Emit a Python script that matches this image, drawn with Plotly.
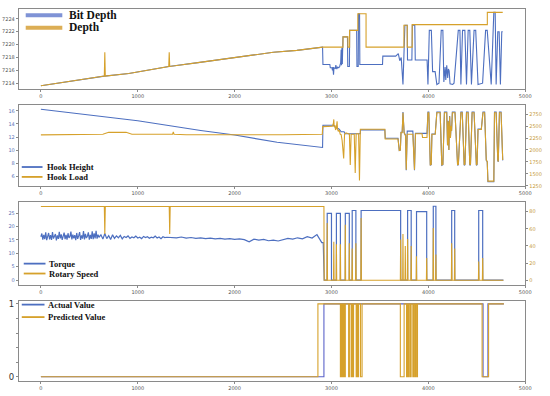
import plotly.graph_objects as go

# ---------------- Panel 1: Bit Depth / Depth ----------------
depth_x = [0, 300, 655, 660, 665, 908, 1320, 1325, 1330, 1622, 2000, 2400, 2643, 2908,
           3119, 3119, 3170, 3170, 3187, 3187, 3272, 3272, 3357, 3357, 3748, 3748,
           3782, 3782, 3833, 3833, 4609, 4609, 4768]
depth_y = [7213.6, 7214.3, 7215.1, 7218.8, 7215.1, 7215.5, 7216.6, 7218.8, 7216.6, 7217.2,
           7218.0, 7218.8, 7219.1, 7219.6, 7219.6, 7221.2, 7221.2, 7219.6, 7219.6, 7222.2,
           7222.2, 7224.8, 7224.8, 7219.6, 7219.6, 7223.0, 7223.0, 7219.6, 7219.6, 7223.1,
           7223.1, 7225.0, 7225.0]

bit_x = [0, 300, 655, 908, 1320, 1622, 2000, 2400, 2643, 2908,
         2912, 2983, 2988, 3005, 3010, 3015, 3021, 3026, 3040, 3045, 3055, 3065, 3075, 3085,
         3095, 3100, 3104, 3108, 3112, 3116, 3119, 3165, 3168, 3185, 3188, 3260, 3263, 3276,
         3279, 3290, 3293, 3527, 3530, 3663, 3690, 3705, 3720, 3738, 3752, 3758, 3782, 3785,
         3830, 3835, 3860, 3865, 3987, 3996, 4010, 4031, 4044, 4070, 4088, 4110, 4133, 4150,
         4160, 4173, 4180, 4190, 4200, 4207, 4215, 4224, 4251, 4265, 4309, 4326, 4336, 4353,
         4377, 4394, 4411, 4428, 4445, 4472, 4489, 4513, 4560, 4591, 4608, 4649, 4676, 4690,
         4700, 4717, 4731, 4744, 4758, 4768]
bit_y = [7213.6, 7214.3, 7215.1, 7215.5, 7216.6, 7217.2, 7218.0, 7218.8, 7219.1, 7219.6,
         7216.9, 7216.9, 7216.4, 7216.4, 7216.0, 7216.5, 7215.3, 7216.4, 7216.3, 7216.8,
         7216.2, 7216.5, 7216.4, 7216.6, 7217.2, 7219.2, 7216.8, 7219.5, 7217.0, 7219.6,
         7221.2, 7221.2, 7216.6, 7216.6, 7222.2, 7222.2, 7216.6, 7216.6, 7224.8, 7224.8,
         7216.9, 7216.9, 7218.2, 7218.2, 7218.6, 7217.5, 7218.0, 7213.8, 7219.0, 7223.0,
         7223.0, 7217.6, 7217.6, 7223.0, 7223.0, 7217.6, 7217.6, 7213.8, 7222.2, 7222.2,
         7215.8, 7215.8, 7213.8, 7214.0, 7222.2, 7222.2, 7214.2, 7216.5, 7214.5, 7216.8,
         7214.8, 7216.2, 7215.9, 7213.9, 7213.8, 7214.0, 7222.2, 7222.2, 7213.8, 7222.2,
         7222.2, 7213.8, 7222.2, 7222.2, 7213.8, 7222.2, 7222.2, 7213.8, 7214.0, 7222.2,
         7222.2, 7213.8, 7225.0, 7225.0, 7213.8, 7222.0, 7222.0, 7213.8, 7222.0, 7222.0]

# ---------------- Panel 2: Hook Height / Hook Load ----------------
hh_x = [0, 500, 1000, 1650, 2000, 2439, 2908, 2912, 3021, 3030, 3050, 3080, 3100, 3130, 3140,
        3298, 3300, 3551, 3555, 3687,
        3700, 3711, 3718, 3730, 3738, 3750, 3765, 3772, 3782, 3840, 3857, 3867, 3935, 3940,
        3986, 3996, 4005, 4020, 4030, 4037, 4071, 4088, 4122, 4139, 4150, 4166, 4190, 4198,
        4205, 4212, 4220, 4228, 4235, 4240, 4248, 4275, 4302, 4310, 4336, 4350, 4370, 4378,
        4394, 4411, 4428, 4435, 4452, 4472, 4496, 4503, 4513, 4547, 4564, 4581, 4598, 4608,
        4615, 4676, 4683, 4700, 4717, 4722, 4734, 4751, 4768]
hh_y = [16.25, 15.4, 14.5, 13.0, 12.3, 11.2, 10.4, 13.8, 13.8, 13.6, 13.4, 13.2, 12.8, 12.8, 12.5,
        12.5, 13.1, 13.1, 11.8, 11.8,
        9.94, 10.0, 12.72, 12.72, 15.82, 12.69, 12.24, 6.91, 12.9, 12.9, 6.91, 12.56, 12.56, 12.56,
        12.56, 15.82, 15.82, 7.67, 7.76, 12.47, 12.47, 15.82, 15.82, 7.67, 7.76, 15.82, 15.82, 10.74,
        14.48, 10.0, 15.22, 11.86, 13.73, 12.98, 15.82, 15.82, 7.67, 7.76, 15.82, 15.82, 7.67, 7.76,
        15.82, 15.82, 7.67, 7.76, 15.82, 15.82, 7.67, 7.76, 13.21, 13.21, 15.82, 15.82, 8.42, 8.21,
        5.14, 5.14, 15.82, 15.82, 8.42, 8.21, 15.82, 15.82, 8.42]

hl_x = [0, 300, 640, 700, 800, 880, 940, 1300, 1360, 1367, 1375, 1500, 2000, 2500, 2905,
        2910, 3010, 3020, 3024, 3028, 3035, 3042, 3050, 3058, 3062, 3070, 3080, 3090, 3100,
        3110, 3126, 3135, 3150, 3185, 3194, 3203, 3235, 3245, 3255, 3280, 3289, 3298, 3551,
        3555, 3687,
        3700, 3711, 3718, 3730, 3738, 3750, 3765, 3772, 3782, 3840, 3857, 3867, 3935, 3940,
        3986, 3996, 4005, 4020, 4030, 4037, 4071, 4088, 4122, 4139, 4150, 4166, 4190, 4198,
        4205, 4212, 4220, 4228, 4235, 4240, 4248, 4275, 4302, 4310, 4336, 4350, 4370, 4378,
        4394, 4411, 4428, 4435, 4452, 4472, 4496, 4503, 4513, 4547, 4564, 4581, 4598, 4608,
        4615, 4676, 4683, 4700, 4717, 4722, 4734, 4751, 4768]
hl_y = [2317, 2320, 2330, 2370, 2378, 2370, 2330, 2322, 2330, 2378, 2330, 2320, 2315, 2318, 2331,
        2490, 2500, 2560, 2640, 2480, 2520, 2420, 2460, 2600, 2440, 2390, 2420, 2330, 2320,
        2200, 1824, 2330, 2360, 2330, 1688, 2330, 2330, 1519, 2340, 2340, 1363, 2433, 2433,
        2230, 2230,
        1992, 2000, 2364, 2364, 2780, 2360, 2300, 1586, 2331, 2331, 1586, 2340, 2340, 2262,
        2262, 2780, 2780, 1688, 1700, 2331, 2331, 2780, 2780, 1688, 1700, 2780, 2780, 2100,
        2600, 2000, 2700, 2250, 2500, 2400, 2780, 2780, 1688, 1700, 2780, 2780, 1688, 1700,
        2780, 2780, 1688, 1700, 2780, 2780, 1688, 1700, 2430, 2430, 2780, 2780, 1789, 1760,
        1349, 1349, 2780, 2780, 1789, 1760, 2780, 2780, 1789]

# ---------------- Panel 3: Torque / Rotary Speed ----------------
torque_xa = list(range(0, 610, 10))
torque_ya = [16.2, 17.4, 15.1, 16.9, 15.3, 17.8, 14.9, 16.5, 17.6, 15.2,
             16.8, 15.0, 17.9, 15.5, 16.3, 17.2, 14.8, 16.7, 15.4, 18.0,
             15.6, 17.1, 15.0, 16.4, 17.7, 15.3, 16.9, 15.1, 17.5, 15.8,
             16.2, 18.1, 15.2, 17.0, 15.6, 16.8, 14.9, 17.6, 15.4, 16.5,
             17.9, 15.0, 16.7, 15.5, 18.3, 15.2, 17.3, 15.7, 16.4, 17.8,
             15.1, 16.9, 15.4, 18.2, 15.3, 17.5, 15.6, 18.4, 15.5, 17.0, 16.0]
torque_xb = list(range(620, 1320, 20))
torque_yb = [16.9, 15.3, 17.4, 15.5, 16.6, 15.2, 16.9, 15.6, 16.5, 15.8,
             16.7, 15.4, 16.3, 15.9, 16.5, 15.6, 16.1, 15.8, 16.4, 15.7,
             16.0, 15.5, 16.3, 15.9, 16.2, 15.6, 16.0, 15.8, 16.4, 15.7,
             16.1, 15.5, 16.2, 15.9, 16.0]
torque_xc = list(range(1350, 2950, 50)) + [2915, 2925]
torque_yc = [16.0, 15.8, 16.1, 15.7, 15.9, 15.6, 15.8, 15.5, 15.7, 15.4, 15.6, 15.3, 15.5, 15.2, 15.4, 15.1,
             14.3, 15.3, 14.9, 15.2, 14.7, 14.9, 14.6, 15.1, 15.6, 15.3, 15.8, 15.4, 16.2, 15.7, 17.0, 14.0,
             14.0, 0.0]
torque_block_start = [2956, 3051, 3143, 3214, 3306, 3786, 3878, 4051, 4241, 4520]
torque_block_end = [3000, 3092, 3184, 3252, 3714, 3823, 3983, 4078, 4272, 4561]
torque_block_val = [24.9, 24.9, 24.9, 26.0, 26.0, 26.0, 25.6, 27.6, 26.0, 26.0]
torque_end_x = 4775

rot_x = [0, 655, 660, 665, 1325, 1330, 1335, 2922, 2925]
rot_y = [86, 86, 54, 86, 86, 54, 86, 86, 0]
rot_spike_x = [2956, 3024, 3051, 3092, 3143, 3184, 3214, 3252, 3306, 3714, 3738, 3762,
               3786, 3823, 3877, 3983, 4051, 4078, 4241, 4272, 4520, 4561]
rot_spike_y = [66.7, 45, 42, 42, 64.7, 43, 37, 43, 72.5, 47.4, 54, 40,
               48, 40, 28, 26, 61, 30, 43, 37, 22, 26]
rot_end_x = 4775

# ---------------- Panel 4: Actual / Predicted ----------------
actual_x = [0, 2922, 4565, 4615, 4780]
actual_y = [0, 1, 0, 1, 1]
pred_x = [0, 2860, 3092, 3098, 3104, 3112, 3120, 3128, 3136, 3143, 3177, 3185, 3203, 3211,
          3220, 3228, 3255, 3262, 3270, 3280, 3300, 3316, 3711, 3750, 3775, 3782, 3792, 3800,
          3813, 3822, 3840, 3848, 3860, 3868, 3880, 3888, 4555, 4622, 4780]
pred_y = [0, 1, 0, 1, 0, 1, 0, 1, 0, 1, 0, 1, 0, 1,
          0, 1, 0, 1, 0, 1, 0, 1, 0, 1, 0, 1, 0, 1,
          0, 1, 0, 1, 0, 1, 0, 1, 0, 1, 1]

x_ticks = [0, 1000, 2000, 3000, 4000, 5000]

legend1_names = ["Bit Depth", "Depth"]
legend2_names = ["Hook Height", "Hook Load"]
legend3_names = ["Torque", "Rotary Speed"]
legend4_names = ["Actual Value", "Predicted Value"]

# ---------------- build derived polylines ----------------
tq_x = torque_xa + torque_xb + torque_xc
tq_y = torque_ya + torque_yb + torque_yc
for s, e, v in zip(torque_block_start, torque_block_end, torque_block_val):
    tq_x += [s, s, e, e]
    tq_y += [0, v, v, 0]
tq_x.append(torque_end_x)
tq_y.append(0)

rs_x = list(rot_x)
rs_y = list(rot_y)
for p, h in zip(rot_spike_x, rot_spike_y):
    rs_x += [p - 3, p, p + 3]
    rs_y += [0, h, 0]
rs_x.append(rot_end_x)
rs_y.append(0)

BLUE = "#4d6fc0"
ORANGE = "#d6a12b"
BLUE_L = "#7f93d6"
ORANGE_L = "#dcae55"
SERIF = "Liberation Serif"

fig = go.Figure()

fig.add_trace(go.Scatter(x=bit_x, y=bit_y, mode="lines", line=dict(color=BLUE, width=1.1),
                         xaxis="x", yaxis="y", name=legend1_names[0], showlegend=False))
fig.add_trace(go.Scatter(x=depth_x, y=depth_y, mode="lines", line=dict(color=ORANGE, width=1.1),
                         xaxis="x", yaxis="y", name=legend1_names[1], showlegend=False))
fig.add_trace(go.Scatter(x=hh_x, y=hh_y, mode="lines", line=dict(color=BLUE, width=1.1),
                         xaxis="x2", yaxis="y2", name=legend2_names[0], showlegend=False))
fig.add_trace(go.Scatter(x=hl_x, y=hl_y, mode="lines", line=dict(color=ORANGE, width=1.1),
                         xaxis="x2", yaxis="y3", name=legend2_names[1], showlegend=False))
fig.add_trace(go.Scatter(x=tq_x, y=tq_y, mode="lines", line=dict(color=BLUE, width=1.2),
                         xaxis="x3", yaxis="y4", name=legend3_names[0], showlegend=False))
fig.add_trace(go.Scatter(x=rs_x, y=rs_y, mode="lines", line=dict(color=ORANGE, width=1.1),
                         xaxis="x3", yaxis="y5", name=legend3_names[1], showlegend=False))
fig.add_trace(go.Scatter(x=actual_x, y=actual_y, mode="lines", line=dict(color="#5b63c9", width=1.1, shape="hv"),
                         xaxis="x4", yaxis="y6", name=legend4_names[0], showlegend=False))
fig.add_trace(go.Scatter(x=pred_x, y=pred_y, mode="lines", line=dict(color=ORANGE, width=1.1, shape="hv"),
                         xaxis="x4", yaxis="y6", name=legend4_names[1], showlegend=False))

W, H = 550, 396
XD = [19 / W, 531 / W]


def ydom(top, bot):
    return [1 - bot / H, 1 - top / H]


# legend-like keys drawn as paper shapes + text annotations
shapes = []
annotations = []


def add_key(names, colors, x0, x1, tx, ys, width, size):
    for n, c, yy in zip(names, colors, ys):
        shapes.append(dict(type="line", xref="paper", yref="paper", x0=x0 / W, x1=x1 / W,
                           y0=1 - yy / H, y1=1 - yy / H, line=dict(color=c, width=width)))
        annotations.append(dict(xref="paper", yref="paper", x=tx / W, y=1 - yy / H, xanchor="left",
                                yanchor="middle", text=n, showarrow=False, borderpad=0,
                                font=dict(family=SERIF, size=size, color="#111111", weight="bold")))


add_key(legend1_names, [BLUE_L, ORANGE_L], 26, 63, 69, [13.3, 26.0], 4, 11.5)
add_key(legend2_names, [BLUE, ORANGE], 22, 43, 47, [166.7, 176.7], 1.8, 8.5)
add_key(legend3_names, [BLUE, ORANGE], 24, 46, 49, [264.3, 274.3], 1.8, 8.5)
add_key(legend4_names, [BLUE, ORANGE], 22, 45, 48, [305.7, 318.3], 1.8, 8.5)

FRAME = "#8a8a8a"
TICKF = dict(family="DejaVu Sans", size=5, color="#555555")

xcommon = dict(domain=XD, range=[-228, 5000], tickvals=x_ticks, ticktext=[str(v) for v in x_ticks],
               showline=True, mirror=True, linecolor=FRAME, linewidth=1, showgrid=False, zeroline=False,
               ticks="outside", ticklen=2, tickcolor=FRAME, tickfont=TICKF)
ycommon = dict(showline=True, mirror=True, linecolor=FRAME, linewidth=1, showgrid=False, zeroline=False,
               ticks="outside", ticklen=2, tickcolor=FRAME)

fig.update_layout(
    width=W, height=H, margin=dict(l=0, r=0, t=0, b=0),
    paper_bgcolor="white", plot_bgcolor="white", showlegend=False,
    shapes=shapes, annotations=annotations,
    xaxis=dict(anchor="y", **xcommon),
    yaxis=dict(anchor="x", domain=ydom(7, 88), range=[7213.08, 7225.54],
               tickvals=[7214, 7216, 7218, 7220, 7222, 7224], tickfont=TICKF, **ycommon),
    xaxis2=dict(anchor="y2", **xcommon),
    yaxis2=dict(anchor="x2", domain=ydom(104, 186), range=[4.48, 16.91],
                tickvals=[6, 8, 10, 12, 14, 16], tickfont=dict(family="DejaVu Sans", size=5, color="#5a72b8"),
                **ycommon),
    yaxis3=dict(anchor="x2", overlaying="y2", side="right", range=[1244, 2943],
                tickvals=[1250, 1500, 1750, 2000, 2250, 2500, 2750], showgrid=False, zeroline=False,
                ticks="outside", ticklen=2, tickcolor=FRAME,
                tickfont=dict(family="DejaVu Sans", size=5, color="#c79a3a")),
    xaxis3=dict(anchor="y4", **xcommon),
    yaxis4=dict(anchor="x3", domain=ydom(202, 286), range=[-1.9, 29.2],
                tickvals=[0, 5, 10, 15, 20, 25], tickfont=dict(family="DejaVu Sans", size=5, color="#5a72b8"),
                **ycommon),
    yaxis5=dict(anchor="x3", overlaying="y4", side="right", range=[-5.6, 91.2],
                tickvals=[0, 20, 40, 60, 80], showgrid=False, zeroline=False,
                ticks="outside", ticklen=2, tickcolor=FRAME,
                tickfont=dict(family="DejaVu Sans", size=5, color="#c79a3a")),
    xaxis4=dict(anchor="y6", **xcommon),
    yaxis6=dict(anchor="x4", domain=ydom(301.7, 383.3), range=[-0.065, 1.045],
                tickvals=[0, 1], tickfont=dict(family="DejaVu Sans", size=8.5, color="#333333"),
                minor=dict(tickvals=[0.2, 0.4, 0.6, 0.8], ticks="outside", ticklen=2, tickcolor=FRAME),
                **ycommon),
)

fig.write_html("out.html", config={"displayModeBar": False},
               post_script="document.body.style.margin='0px';")
